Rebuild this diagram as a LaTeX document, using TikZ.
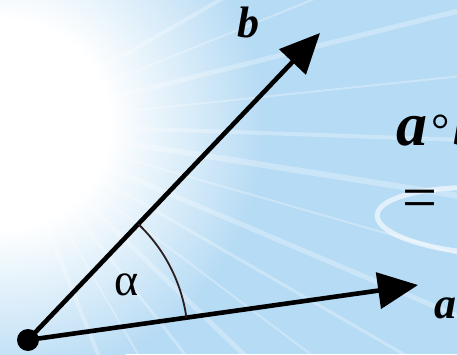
\documentclass[tikz,border=0pt]{standalone}
\usepackage{fontspec}
\setmainfont{Liberation Serif}
\usetikzlibrary{arrows.meta}
\definecolor{SkyBase}{HTML}{B6DBF4}
\definecolor{VecInk}{HTML}{000000}
\definecolor{ArcInk}{HTML}{2A1E1E}
\pgfdeclareradialshading{sunglow}{\pgfpoint{0bp}{0bp}}{color(0bp)=(white); color(10bp)=(white); color(16bp)=(white!60!SkyBase); color(25bp)=(SkyBase); color(50bp)=(SkyBase)}
\tikzset{
  vecline/.style={VecInk,line width=4.6pt,-{Triangle[length=40pt,width=36pt]}},
  veclabel/.style={font=\fontsize{44}{44}\selectfont\bfseries\itshape,inner sep=0pt},
  bignum/.style={font=\fontsize{62}{62}\selectfont,inner sep=0pt},
  dotnode/.style={circle,fill=VecInk,minimum size=22pt,inner sep=0pt},
}

\begin{document}
\begin{tikzpicture}[x=1pt,y=1pt]
    % background
    \useasboundingbox (0,0) rectangle (457,354);
    \clip (0,0) rectangle (457,354);
    \fill[SkyBase] (0,0) rectangle (457,354);
    \shade[shading=sunglow] (5,230) circle (260pt);
    \foreach \ang/\wd in {30/4,22/2,14/5,6/2,-2/4,-9/6,-16/2,-23/5,-30/3,-37/2,-44/5,-52/3,-60/2,-68/4}
      \draw[white,opacity=0.28,line width=\wd pt] (5,230) -- ++(\ang:580pt);
    \draw[white,opacity=0.6,line width=5pt,rotate around={-3:(490,133)}] (490,133) ellipse (113pt and 33pt);
    % vectors
    \coordinate (O) at (28,14);
    \coordinate (A) at (418,69);
    \coordinate (B) at (320,321);
    \draw[vecline] (O) -- (A);
    \draw[vecline] (O) -- (B);
    \draw[ArcInk,line width=1.8pt] ([shift={(8.1:160pt)}]O) arc[start angle=8.1,end angle=46.4,radius=160pt];
    \node[dotnode] (Odot) at (O) {};
    % labels
    \node[veclabel,anchor=base west] (labB) at (237,316) {b};
    \node[veclabel,anchor=base west] (labA) at (434,36) {a};
    \node[font=\fontsize{46}{46}\selectfont,inner sep=0pt,anchor=base] (labAlpha) at (127,59) {α};
    \node[bignum,anchor=base west] (prod) at (396,209) {\textbf{\textit{a}}\kern4pt{\fontsize{46}{46}\selectfont°}\kern4pt\textbf{\textit{b}}};
    \node[bignum] (eq) at (420,150) {=};
\end{tikzpicture}
\end{document}
